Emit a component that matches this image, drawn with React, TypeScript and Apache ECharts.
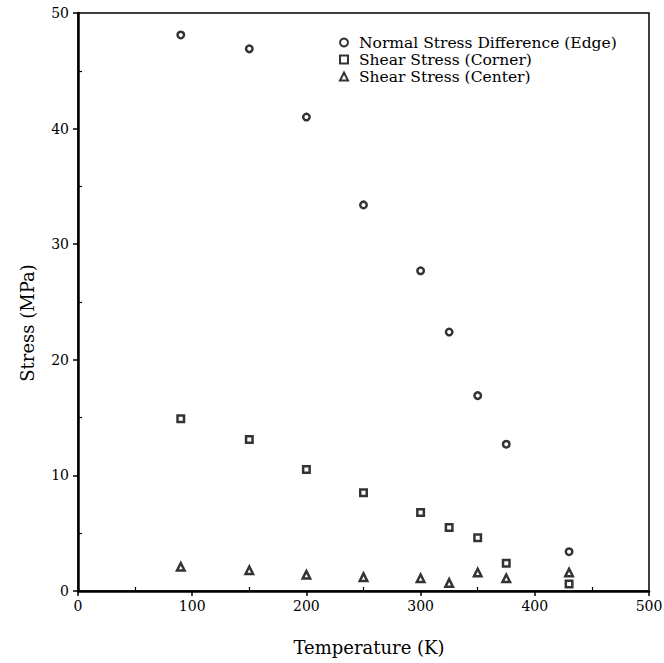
import React, { useEffect, useRef } from "react";
import * as echarts from "echarts";

const temperatures = [90, 150, 200, 250, 300, 325, 350, 375, 430];
const edgeStress = [48.1, 46.9, 41.0, 33.4, 27.7, 22.4, 16.9, 12.7, 3.4];
const cornerShear = [14.9, 13.1, 10.5, 8.5, 6.8, 5.5, 4.6, 2.4, 0.6];
const centerShear = [2.1, 1.8, 1.4, 1.2, 1.1, 0.7, 1.6, 1.1, 1.6];

const seriesNames = [
  "Normal Stress Difference (Edge)",
  "Shear Stress (Corner)",
  "Shear Stress (Center)",
];
const xTitle = "Temperature (K)";
const yTitle = "Stress (MPa)";

const FONT = "'DejaVu Serif', 'Liberation Serif', serif";

export default function App() {
  const ref = useRef<HTMLDivElement>(null);
  useEffect(() => {
    if (!ref.current) return;
    const chart = echarts.init(ref.current, null, { renderer: "svg" });
    const mk = (vals: number[]) => temperatures.map((t, i) => [t, vals[i]]);
    const markerStyle = { color: "#fff", borderColor: "#000", borderWidth: 2.5 };
    chart.setOption({
      animation: false,
      backgroundColor: "#fff",
      textStyle: { fontFamily: FONT, color: "#000" },
      grid: {
        left: 78,
        right: 15,
        top: 13,
        bottom: 72,
        containLabel: false,
        outerBoundsMode: "none",
        show: true,
        borderColor: "#000",
        borderWidth: 1.5,
      },
      legend: {
        orient: "vertical",
        left: 334,
        top: 29,
        itemWidth: 8,
        itemHeight: 8,
        itemGap: 0,
        textStyle: {
          fontFamily: FONT,
          fontSize: 15.5,
          lineHeight: 17,
          color: "#000",
          padding: [0, 0, 0, 6],
        },
        data: seriesNames,
      },
      graphic: [
        {
          type: "text",
          x: 369,
          y: 647,
          style: {
            text: xTitle,
            fontFamily: FONT,
            fontSize: 18,
            fill: "#000",
            align: "center",
            verticalAlign: "middle",
          },
        },
        {
          type: "text",
          x: 27,
          y: 323,
          rotation: Math.PI / 2,
          style: {
            text: yTitle,
            fontFamily: FONT,
            fontSize: 18,
            fill: "#000",
            align: "center",
            verticalAlign: "middle",
          },
        },
      ],
      xAxis: {
        type: "value",
        min: 0,
        max: 500,
        interval: 100,
        axisLine: { show: true, lineStyle: { color: "#000", width: 2.5 } },
        axisTick: { show: true, inside: false, length: 5, lineStyle: { color: "#000", width: 1.5 } },
        minorTick: { show: true, splitNumber: 2, length: -4, lineStyle: { color: "#000", width: 1.2 } },
        axisLabel: { fontFamily: FONT, fontSize: 14, color: "#000", margin: 8 },
        splitLine: { show: false },
      },
      yAxis: {
        type: "value",
        min: 0,
        max: 50,
        interval: 10,
        axisLine: { show: true, lineStyle: { color: "#000", width: 2.5 } },
        axisTick: { show: true, inside: false, length: 5, lineStyle: { color: "#000", width: 1.5 } },
        minorTick: { show: true, splitNumber: 2, length: -4, lineStyle: { color: "#000", width: 1.2 } },
        axisLabel: { fontFamily: FONT, fontSize: 14, color: "#000", margin: 9 },
        splitLine: { show: false },
      },
      series: [
        {
          name: seriesNames[0],
          type: "scatter",
          symbol: "circle",
          symbolSize: 6.5,
          itemStyle: markerStyle,
          data: mk(edgeStress),
        },
        {
          name: seriesNames[1],
          type: "scatter",
          symbol: "rect",
          symbolSize: 6.5,
          itemStyle: markerStyle,
          data: mk(cornerShear),
        },
        {
          name: seriesNames[2],
          type: "scatter",
          symbol: "triangle",
          symbolSize: 7.5,
          itemStyle: markerStyle,
          data: mk(centerShear),
        },
      ],
    });
    return () => chart.dispose();
  }, []);
  return <div ref={ref} style={{ width: 664, height: 663, position: "absolute", left: 0, top: 0 }} />;
}
